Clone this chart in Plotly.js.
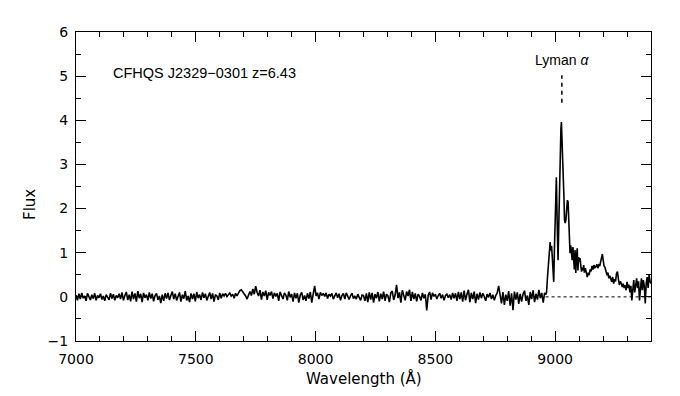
<!DOCTYPE html>
<html>
<head>
<meta charset="utf-8">
<script src="https://cdn.plot.ly/plotly-3.0.1.min.js"></script>
<style>html,body{margin:0;padding:0;background:#fff;}#chart{width:680px;height:396px;}</style>
</head>
<body>
<div id="chart"></div>
<script>
// Continuum / Ly-alpha forest region: uniform pixel grid
const CONT_START = 7000;
const CONT_STEP = 6;
const contFlux = [
0.04,-0.08,0.07,-0.05,0.09,-0.03,0.02,-0.09,0.08,-0.01,
-0.07,0.05,-0.04,0.08,-0.08,0.03,-0.02,0.07,-0.06,0.02,
-0.09,0.05,0.00,-0.07,0.08,-0.04,0.06,-0.08,0.03,-0.02,
0.07,-0.05,0.10,-0.08,0.03,0.11,-0.07,0.05,-0.10,0.12,
-0.05,0.08,-0.11,0.13,-0.03,0.07,-0.12,0.09,-0.02,0.05,
-0.08,0.10,-0.04,0.07,-0.10,0.03,0.08,-0.07,0.02,-0.14,
0.05,-0.09,0.08,-0.04,0.09,-0.07,0.03,0.12,-0.05,0.07,
-0.08,0.03,0.10,-0.11,0.05,-0.04,0.13,-0.08,0.02,-0.12,
0.08,-0.05,0.07,-0.10,0.11,-0.03,0.05,-0.07,0.10,-0.02,
0.07,-0.08,0.03,0.10,-0.05,0.08,-0.11,0.05,0.02,-0.07,
0.09,-0.03,0.07,0.02,0.08,0.01,0.05,0.09,0.02,0.06,
-0.03,0.08,0.02,0.10,0.14,0.16,0.12,0.06,0.02,-0.05,
0.06,0.12,0.03,0.18,0.06,0.24,0.10,0.02,0.15,-0.06,
0.11,0.02,0.14,-0.07,0.10,0.03,0.12,-0.04,0.09,0.01,
0.08,-0.09,0.11,0.02,-0.05,0.09,0.04,-0.08,0.12,-0.01,
0.06,-0.11,0.09,-0.03,0.08,-0.13,0.04,0.10,-0.07,0.03,
-0.09,0.08,-0.04,0.11,-0.13,0.06,0.25,0.02,0.09,-0.05,
0.10,0.03,0.08,0.01,0.09,-0.04,0.06,0.02,0.08,-0.05,
0.04,0.09,-0.02,0.07,-0.08,0.03,0.08,-0.05,0.09,-0.01,
-0.06,0.03,0.08,-0.04,0.02,-0.05,0.06,-0.01,-0.08,0.04,
0.03,-0.09,0.08,-0.12,0.10,-0.06,0.09,-0.13,0.06,-0.03,
0.11,-0.10,0.07,-0.05,0.12,-0.09,0.06,0.02,-0.12,0.09,
0.13,-0.07,0.04,0.27,-0.03,0.10,-0.13,0.15,0.03,-0.08,
0.12,0.02,0.16,-0.09,0.11,-0.05,0.08,-0.10,0.06,0.01,
-0.08,0.09,-0.03,0.06,-0.31,0.04,0.11,-0.06,0.09,0.01,
0.06,-0.05,0.03,0.08,-0.03,0.05,-0.08,0.03,0.06,-0.02,
0.05,-0.06,0.09,-0.03,0.08,-0.09,0.11,-0.05,0.10,-0.11,
0.14,-0.08,0.06,0.16,-0.12,0.09,-0.05,0.12,-0.14,0.07,
-0.06,0.10,-0.03,0.08,0.01,-0.09,0.06,-0.01,0.09,-0.05,
0.05,-0.08,0.03,0.09,0.25,0.06,-0.15,0.11,-0.18,0.05,
-0.09,0.13,-0.20,0.08,-0.30,0.12,-0.06,0.10,-0.16,0.07,
-0.11,0.06,0.14,-0.09,0.03,-0.18,0.11,-0.05,0.15,-0.12,
0.07,-0.06,0.16,-0.03,0.09,-0.13,0.09
];

// Emission line region: wavelength / flux pairs
const lineWave = [8960,8964,8968,8972,8976,8979,8982,8985,8988,8991,8994,8997,9000,9003,9005,9008,9010,9012,9015,9018,9021,9024,9026,9029,9032,9035,9037,9039,9042,9045,9048,9051,9054,9056,9059,9062,9065,9068,9071,9074,9077,9080,9083,9086,9089,9092,9095,9098,9101,9104,9107,9110,9113,9116,9119,9122,9126,9130,9134,9138,9142,9146,9150,9154,9158,9162,9166,9170,9174,9178,9182,9186,9190,9194,9197,9200,9204,9208,9212,9216,9220,9224,9228,9232,9236,9240,9244,9248,9252,9256,9260,9264,9268,9272,9276,9280,9284,9288,9292,9296,9300,9304,9308,9312,9316,9320,9324,9328,9332,9336,9340,9344,9348,9352,9356,9360,9364,9368,9372,9376,9380,9384,9388,9392,9396,9400];
const lineFlux = [0.05,0.10,0.45,0.85,1.15,1.24,1.05,1.15,0.90,0.55,0.34,1.10,1.90,2.45,2.71,1.80,1.20,0.83,1.60,2.50,3.30,3.80,3.96,3.50,3.00,2.87,2.20,1.74,1.67,1.75,2.00,2.19,2.15,1.81,1.30,0.99,1.17,1.02,0.83,1.13,0.95,0.62,1.06,0.54,0.90,1.10,0.60,0.90,0.80,0.88,0.70,0.57,0.66,0.60,0.72,0.55,0.65,0.50,0.45,0.55,0.49,0.62,0.58,0.70,0.62,0.72,0.66,0.68,0.74,0.65,0.72,0.70,0.80,0.88,0.97,0.85,0.70,0.67,0.57,0.49,0.55,0.42,0.48,0.38,0.34,0.45,0.30,0.40,0.35,0.53,0.57,0.40,0.27,0.35,0.31,0.22,0.30,0.20,0.26,0.15,0.34,0.20,0.28,0.10,0.25,-0.08,0.15,0.38,0.10,0.30,0.42,0.20,0.35,-0.08,0.30,0.42,0.15,0.38,0.25,-0.15,0.30,0.45,0.20,0.50,0.35,0.30];

const objectLabel = 'CFHQS J2329\u22120301 z=6.43';
const lineLabel = 'Lyman <i>\u03b1</i>';
const lyaWave = 9028;
const lyaMarkFlux = [4.4, 5.02];
const zeroLineStart = 8960;

const wave = contFlux.map((_, i) => CONT_START + i * CONT_STEP).concat(lineWave);
const flux = contFlux.concat(lineFlux);

const tickFont = {family: 'DejaVu Sans', size: 14, color: '#000'};

const trace = {
  x: wave, y: flux, type: 'scatter', mode: 'lines',
  line: {color: '#000', width: 1.6}, hoverinfo: 'skip'
};

const axisCommon = {
  showline: true, linecolor: '#000', linewidth: 1, mirror: 'ticks',
  ticks: 'inside', ticklen: 10, tickwidth: 1, tickcolor: '#000',
  showgrid: false, zeroline: false, tickfont: tickFont
};

const layout = {
  width: 680, height: 396,
  margin: {l: 76, r: 29, t: 32, b: 55},
  paper_bgcolor: '#fff', plot_bgcolor: '#fff',
  showlegend: false,
  xaxis: Object.assign({}, axisCommon, {
    range: [7000, 9400], dtick: 500, tick0: 7000,
    minor: {dtick: 100, ticklen: 5, ticks: 'inside', tickcolor: '#000', tickwidth: 1, showgrid: false},
    ticklabelstandoff: 5
  }),
  yaxis: Object.assign({}, axisCommon, {
    range: [-1, 6], dtick: 1, tick0: 0,
    minor: {dtick: 0.5, ticklen: 5, ticks: 'inside', tickcolor: '#000', tickwidth: 1, showgrid: false},
    ticklabelstandoff: 4
  }),
  shapes: [
    {type: 'line', xref: 'x', yref: 'y', x0: zeroLineStart, x1: 9400, y0: 0, y1: 0,
     line: {color: '#000', width: 1, dash: 'dot'}},
    {type: 'line', xref: 'x', yref: 'y', x0: lyaWave, x1: lyaWave, y0: lyaMarkFlux[0], y1: lyaMarkFlux[1],
     line: {color: '#000', width: 1.5, dash: '4px,4px'}}
  ],
  annotations: [
    {text: objectLabel, xref: 'paper', yref: 'paper', x: (111 - 76) / 575, y: (341 - 73) / 309,
     xanchor: 'left', yanchor: 'middle', showarrow: false,
     font: {family: 'Liberation Sans', size: 14.5, color: '#000'}},
    {text: lineLabel, xref: 'x', yref: 'paper', x: lyaWave, y: (341 - 60) / 309,
     xanchor: 'center', yanchor: 'middle', showarrow: false,
     font: {family: 'Liberation Sans', size: 14, color: '#000'}},
    {text: 'Wavelength (\u00c5)', xref: 'paper', yref: 'paper', x: 0.5, y: (341 - 378) / 309,
     xanchor: 'center', yanchor: 'middle', showarrow: false,
     font: {family: 'DejaVu Sans', size: 15, color: '#000'}},
    {text: 'Flux', xref: 'paper', yref: 'paper', x: (30 - 76) / 575, y: (341 - 205) / 309,
     xanchor: 'center', yanchor: 'middle', showarrow: false, textangle: -90,
     font: {family: 'DejaVu Sans', size: 15, color: '#000'}}
  ]
};

Plotly.newPlot('chart', [trace], layout, {staticPlot: true, displayModeBar: false});
</script>
</body>
</html>
